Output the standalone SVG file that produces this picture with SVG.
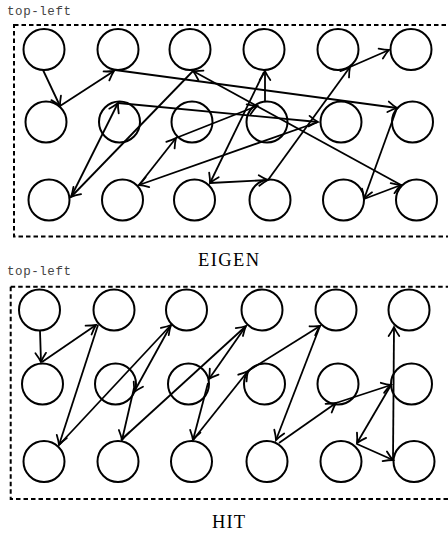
<svg xmlns="http://www.w3.org/2000/svg" width="448" height="533" viewBox="0 0 448 533">
<style>
.n{fill:none;stroke:#000;stroke-width:2}
.e{fill:none;stroke:#000;stroke-width:1.8;marker-end:url(#ah)}
.frame{fill:none;stroke:#000;stroke-width:2;stroke-dasharray:4.5 3}
.tl{font-family:"Liberation Mono",monospace;font-size:12.5px;fill:#444}
.cap{font-family:"Liberation Serif",serif;font-size:18.5px;fill:#000}
</style>
<defs>
<marker id="ah" markerUnits="userSpaceOnUse" viewBox="-10 -7 14 14" markerWidth="14" markerHeight="14" refX="0" refY="0" orient="auto" overflow="visible">
<path d="M-9,-5.3 Q-3.5,-1.5 0,0 Q-3.5,1.5 -9,5.3" fill="none" stroke="#000" stroke-width="1.8" stroke-linecap="round"/>
</marker>
</defs>
<g id="eigen-panel">
<text class="tl" x="7" y="14.5" textLength="64">top-left</text>
<rect class="frame" x="14" y="25" width="450" height="211.5"/>
<text class="cap" x="198" y="266" textLength="61">EIGEN</text>
</g>
<g id="eigen-nodes">
<g id="T11"><circle class="n" cx="44" cy="49.5" r="20.5"/></g>
<g id="T12"><circle class="n" cx="118" cy="49.5" r="20.5"/></g>
<g id="T13"><circle class="n" cx="190" cy="49.5" r="20.5"/></g>
<g id="T14"><circle class="n" cx="264" cy="49.5" r="20.5"/></g>
<g id="T15"><circle class="n" cx="338" cy="49.5" r="20.5"/></g>
<g id="T16"><circle class="n" cx="411" cy="49.5" r="20.5"/></g>
<g id="T21"><circle class="n" cx="46" cy="122" r="20.5"/></g>
<g id="T22"><circle class="n" cx="119.5" cy="122" r="20.5"/></g>
<g id="T23"><circle class="n" cx="192" cy="122" r="20.5"/></g>
<g id="T24"><circle class="n" cx="267" cy="122" r="20.5"/></g>
<g id="T25"><circle class="n" cx="341" cy="122" r="20.5"/></g>
<g id="T26"><circle class="n" cx="412.5" cy="122" r="20.5"/></g>
<g id="T31"><circle class="n" cx="49" cy="200" r="20.5"/></g>
<g id="T32"><circle class="n" cx="122.5" cy="200" r="20.5"/></g>
<g id="T33"><circle class="n" cx="194.5" cy="200" r="20.5"/></g>
<g id="T34"><circle class="n" cx="270" cy="200" r="20.5"/></g>
<g id="T35"><circle class="n" cx="343.5" cy="200" r="20.5"/></g>
<g id="T36"><circle class="n" cx="416.5" cy="200" r="20.5"/></g>
</g>
<g id="eigen-edges">
<path class="e" d="M43,70 L60,106"/>
<path class="e" d="M60,106 L114,71"/>
<path class="e" d="M115,70 L397,108"/>
<path class="e" d="M397,108 L364,199"/>
<path class="e" d="M364,199 L401,185"/>
<path class="e" d="M401,185 L193,71"/>
<path class="e" d="M193,71 L71,197"/>
<path class="e" d="M71,197 L118,103"/>
<path class="e" d="M118,103 L318,122"/>
<path class="e" d="M318,122 L139,185"/>
<path class="e" d="M139,185 L176,138"/>
<path class="e" d="M176,138 L257,106"/>
<path class="e" d="M265,102 L265,71"/>
<path class="e" d="M264,72 L210,183"/>
<path class="e" d="M210,183 L268,180"/>
<path class="e" d="M268,180 L350,67"/>
<path class="e" d="M350,67 L389,50"/>
</g>
<g id="hit-panel">
<text class="tl" x="7" y="275" textLength="64">top-left</text>
<rect class="frame" x="10.7" y="286.7" width="450" height="212.3"/>
<text class="cap" x="212" y="528" textLength="33">HIT</text>
</g>
<g id="hit-nodes">
<g id="B11"><circle class="n" cx="39.5" cy="310" r="20.5"/></g>
<g id="B12"><circle class="n" cx="114" cy="310" r="20.5"/></g>
<g id="B13"><circle class="n" cx="186.5" cy="310" r="20.5"/></g>
<g id="B14"><circle class="n" cx="262" cy="310" r="20.5"/></g>
<g id="B15"><circle class="n" cx="336" cy="310" r="20.5"/></g>
<g id="B16"><circle class="n" cx="409" cy="310" r="20.5"/></g>
<g id="B21"><circle class="n" cx="42.5" cy="384" r="20.5"/></g>
<g id="B22"><circle class="n" cx="115.5" cy="384" r="20.5"/></g>
<g id="B23"><circle class="n" cx="188.5" cy="384" r="20.5"/></g>
<g id="B24"><circle class="n" cx="264.5" cy="384" r="20.5"/></g>
<g id="B25"><circle class="n" cx="338" cy="384" r="20.5"/></g>
<g id="B26"><circle class="n" cx="411.5" cy="384" r="20.5"/></g>
<g id="B31"><circle class="n" cx="44" cy="461.5" r="20.5"/></g>
<g id="B32"><circle class="n" cx="118" cy="461.5" r="20.5"/></g>
<g id="B33"><circle class="n" cx="191.5" cy="461.5" r="20.5"/></g>
<g id="B34"><circle class="n" cx="267" cy="461.5" r="20.5"/></g>
<g id="B35"><circle class="n" cx="341" cy="461.5" r="20.5"/></g>
<g id="B36"><circle class="n" cx="414" cy="461.5" r="20.5"/></g>
</g>
<g id="hit-edges">
<path class="e" d="M40,331 L41,362"/>
<path class="e" d="M42,362 L96,325"/>
<path class="e" d="M98,325 L59,445"/>
<path class="e" d="M59,445 L171,325"/>
<path class="e" d="M171,325 L134,392"/>
<path class="e" d="M134,388 L122,440"/>
<path class="e" d="M121,440 L246,326"/>
<path class="e" d="M246,326 L209,379"/>
<path class="e" d="M208,383 L193,440"/>
<path class="e" d="M193,440 L248,371"/>
<path class="e" d="M248,371 L320,326"/>
<path class="e" d="M320,326 L276,440"/>
<path class="e" d="M279,443 L336,403"/>
<path class="e" d="M336,403 L391,385"/>
<path class="e" d="M391,385 L357,443"/>
<path class="e" d="M357,444 L393,460"/>
<path class="e" d="M393,460 L394,327"/>
</g>
</svg>
